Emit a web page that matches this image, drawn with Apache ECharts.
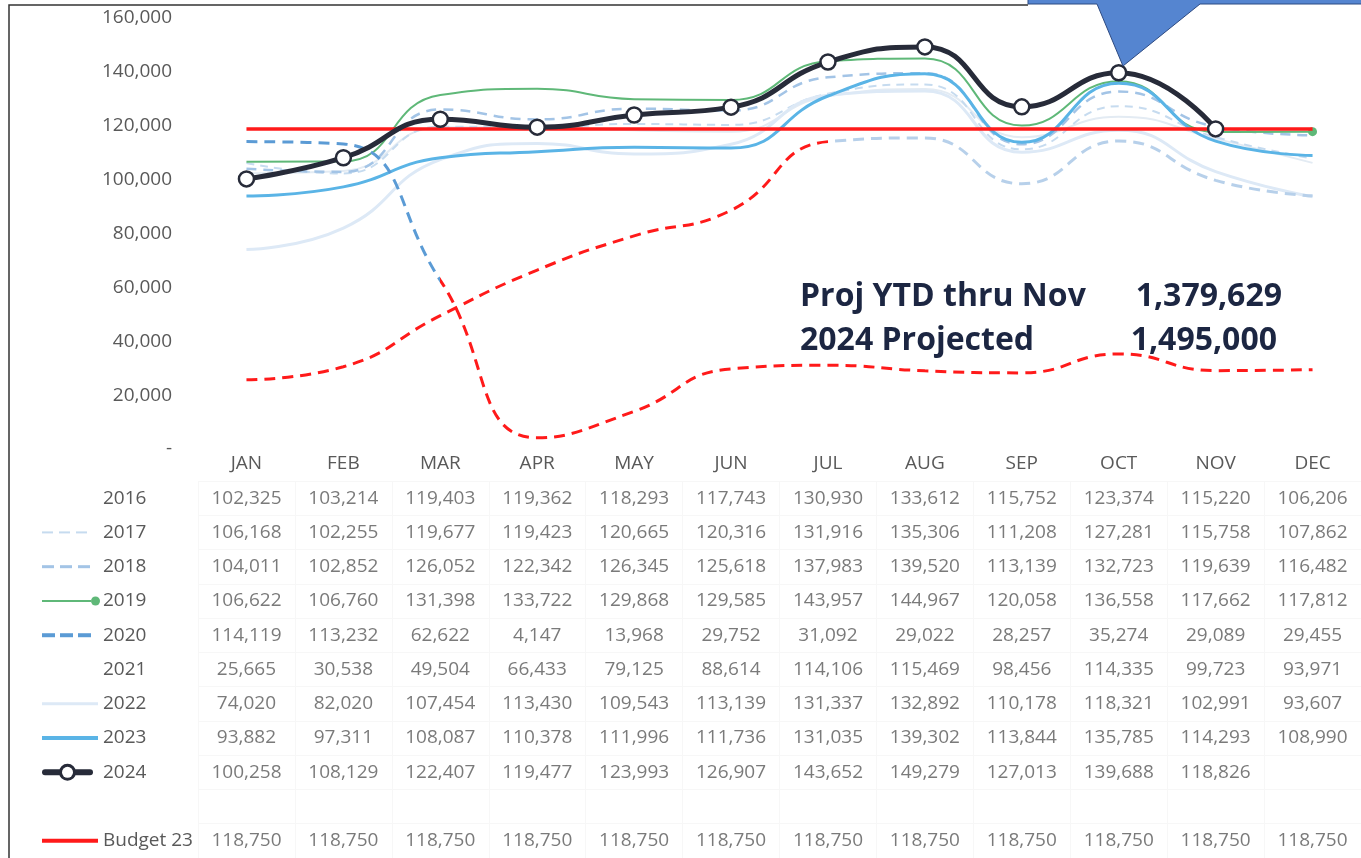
<!DOCTYPE html>
<html><head><meta charset="utf-8">
<script src="https://cdn.jsdelivr.net/npm/echarts/dist/echarts.min.js"></script>
<style>html,body{margin:0;padding:0;background:#fff}#c{width:1361px;height:858px}</style>
</head><body><div id="c"></div>
<script>
const months = ['JAN','FEB','MAR','APR','MAY','JUN','JUL','AUG','SEP','OCT','NOV','DEC'];
const yTicks = [0,20000,40000,60000,80000,100000,120000,140000,160000];
const y2016 = [102325,103214,119403,119362,118293,117743,130930,133612,115752,123374,115220,106206];
const y2017 = [106168,102255,119677,119423,120665,120316,131916,135306,111208,127281,115758,107862];
const y2018 = [104011,102852,126052,122342,126345,125618,137983,139520,113139,132723,119639,116482];
const y2019 = [106622,106760,131398,133722,129868,129585,143957,144967,120058,136558,117662,117812];
const y2020 = [114119,113232,62622,4147,13968,29752,31092,29022,28257,35274,29089,29455];
const y2021 = [25665,30538,49504,66433,79125,88614,114106,115469,98456,114335,99723,93971];
const y2022 = [74020,82020,107454,113430,109543,113139,131337,132892,110178,118321,102991,93607];
const y2023 = [93882,97311,108087,110378,111996,111736,131035,139302,113844,135785,114293,108990];
const y2024 = [100258,108129,122407,119477,123993,126907,143652,149279,127013,139688,118826,null];
const budget23 = [118750,118750,118750,118750,118750,118750,118750,118750,118750,118750,118750,118750];
const rowNames = ['2016','2017','2018','2019','2020','2021','2022','2023','2024','','Budget 23'];
const rowData = [y2016,y2017,y2018,y2019,y2020,y2021,y2022,y2023,y2024,null,budget23];
const annoLabels = ['Proj YTD thru Nov','2024 Projected'];
const annoValues = ['1,379,629','1,495,000'];

const FONT = '"Open Sans", "Noto Sans", sans-serif';
const GRAY = '#595959';
const SMOOTH = 0.5;

function line(name, data, color, width, type, z) {
  const s = {type:'line', name, data, smooth:SMOOTH, symbol:'none', z:z||2,
    lineStyle:{width, type: type||'solid'}, emphasis:{disabled:true}};
  if (color) { s.lineStyle.color = color; s.itemStyle = {color}; }
  return s;
}

const s2019 = line('2019', y2019.map((v,i)=> i===y2019.length-1 ? v : {value:v, symbol:'none'}), '#5fb878', 2, 'solid', 3);
s2019.symbol = 'circle'; s2019.symbolSize = 9; s2019.showSymbol = true;

const s2024 = {type:'line', name:'2024', data:y2024, smooth:SMOOTH, z:10,
  symbol:'circle', symbolSize:15, showSymbol:true,
  lineStyle:{color:'#272b39', width:5},
  itemStyle:{color:'#ffffff', borderColor:'#272b39', borderWidth:2.5}, emphasis:{disabled:true}};

const series = [
  line('2016', y2016, '#e3ebf3', 2, 'solid', 2),
  line('2017', y2017, '#c6dbef', 2, [8,6], 2),
  line('2018', y2018, '#a3c4e6', 2.5, [10,7], 2),
  s2019,
  line('2020', y2020, null, 3, [11,7], 4),
  line('2021', y2021, null, 3, [11,7], 4),
  line('2022', y2022, '#dde9f6', 3, 'solid', 2),
  line('2023', y2023, '#5ab4e6', 3, 'solid', 3),
  line('Budget 23', budget23, '#ff1a1a', 3.5, 'solid', 8),
  s2024
];

// table cells
const cells = [];
rowData.forEach((arr, r) => { if (!arr) return; arr.forEach((v, c) => { if (v != null) cells.push([c, r, v]); }); });
series.push({type:'scatter', xAxisIndex:1, yAxisIndex:1, data:cells, symbolSize:1,
  itemStyle:{color:'rgba(0,0,0,0)'}, silent:true, z:1,
  label:{show:true, position:'inside', color:GRAY, fontSize:19, fontFamily:FONT,
    formatter:p=>p.value[2].toLocaleString('en-US')}});

const rich = {
  t:{fontSize:19, color:GRAY, fontFamily:FONT, verticalAlign:'middle'},
  g3:{width:3, height:2}, g6:{width:6, height:2}, g13:{width:13,height:2}, g61:{width:61,height:2},
  g5:{width:5,height:2}, g7:{width:7,height:2},
  d17:{width:11, height:2, backgroundColor:'#c6dbef', verticalAlign:'middle'},
  d18:{width:12, height:3, backgroundColor:'#a3c4e6', verticalAlign:'middle'},
  d20:{width:13, height:4, backgroundColor:'#5b9bd5', verticalAlign:'middle'},
  l19:{width:49, height:2, backgroundColor:'#5fb878', verticalAlign:'middle'},
  o19:{width:9, height:9, borderRadius:5, backgroundColor:'#5fb878', verticalAlign:'middle'},
  l22:{width:56, height:3, backgroundColor:'#dde9f6', verticalAlign:'middle'},
  l23:{width:56, height:4, backgroundColor:'#5ab4e6', verticalAlign:'middle'},
  l24:{width:20, height:6, borderRadius:3, backgroundColor:'#272b39', verticalAlign:'middle'},
  c24:{width:11, height:11, borderRadius:8, borderWidth:3, borderColor:'#272b39', backgroundColor:'#ffffff', verticalAlign:'middle'},
  lB:{width:56, height:4, backgroundColor:'#ff1a1a', verticalAlign:'middle'}
};
const icons = {
  '2016':'{g61|}',
  '2017':'{d17|}{g6|}{d17|}{g6|}{d17|}{g13|}{g3|}',
  '2018':'{d18|}{g6|}{d18|}{g6|}{d18|}{g13|}',
  '2019':'{l19|}{o19|}{g3|}',
  '2020':'{d20|}{g5|}{d20|}{g5|}{d20|}{g7|}{g5|}',
  '2021':'{g61|}',
  '2022':'{l22|}{g5|}',
  '2023':'{l23|}{g5|}',
  '2024':'{l24|}{c24|}{l24|}{g7|}{g3|}',
  '':'{g61|}',
  'Budget 23':'{lB|}{g5|}'
};

const option = {
  animation:false,
  backgroundColor:'#ffffff',
  grid:[
    {left:198, width:1176, top:18, height:431},
    {left:198, width:1176, top:481, height:379.5}
  ],
  xAxis:[
    {type:'category', gridIndex:0, data:months, boundaryGap:true,
      axisLine:{show:false}, axisTick:{show:false}, splitLine:{show:false},
      axisLabel:{color:GRAY, fontSize:19, fontFamily:FONT, margin:5}},
    {type:'category', gridIndex:1, data:months, boundaryGap:true,
      axisLine:{show:false}, axisTick:{show:false}, axisLabel:{show:false},
      splitLine:{show:true, lineStyle:{color:'#f7f7f7', width:1}}}
  ],
  yAxis:[
    {type:'value', gridIndex:0, min:yTicks[0], max:yTicks[yTicks.length-1], interval:20000,
      axisLine:{show:false}, axisTick:{show:false}, splitLine:{show:false},
      axisLabel:{color:GRAY, fontSize:19, fontFamily:FONT, margin:26,
        formatter:v=> v===0 ? '-' : v.toLocaleString('en-US')}},
    {type:'category', gridIndex:1, data:rowNames, inverse:true, boundaryGap:true,
      axisLine:{show:false}, axisTick:{show:false},
      splitLine:{show:true, lineStyle:{color:'#f7f7f7', width:1}},
      axisLabel:{align:'left', margin:156, rich,
        formatter:v=> (icons[v]||'{g61|}') + (v ? '{t|'+v+'}' : '')}}
  ],
  visualMap:[
    {show:false, type:'piecewise', seriesIndex:4, dimension:0,
      pieces:[{lte:2, color:'#5b9bd5'},{gt:2, lte:20, color:'#ff1a1a'}], outOfRange:{color:'#ff1a1a'}},
    {show:false, type:'piecewise', seriesIndex:5, dimension:0,
      pieces:[{lte:6, color:'#ff1a1a'},{gt:6, lte:20, color:'#b7d0ea'}], outOfRange:{color:'#b7d0ea'}}
  ],
  series,
  graphic:[
    {type:'polyline', z:50, shape:{points:[[1028,5],[9,5],[9,860]]}, style:{stroke:'#333333', lineWidth:1.5, fill:null}},
    {type:'polygon', z:60, shape:{points:[[1028,-3],[1365,-3],[1365,4],[1200,4],[1123,66],[1097,4],[1028,4]]},
      style:{fill:'#5585d0', stroke:'#2d4a82', lineWidth:1}},
    {type:'text', z:60, x:800, y:297, style:{text:annoLabels[0], font:'bold 32px '+FONT, fill:'#1c2642', verticalAlign:'middle'}},
    {type:'text', z:60, x:800, y:341, style:{text:annoLabels[1], font:'bold 32px '+FONT, fill:'#1c2642', verticalAlign:'middle'}},
    {type:'text', z:60, x:1282, y:297, style:{text:annoValues[0], font:'bold 32px '+FONT, fill:'#1c2642', align:'right', verticalAlign:'middle'}},
    {type:'text', z:60, x:1277, y:341, style:{text:annoValues[1], font:'bold 32px '+FONT, fill:'#1c2642', align:'right', verticalAlign:'middle'}}
  ]
};
const chart = echarts.init(document.getElementById('c'), null, {renderer:'canvas'});
chart.setOption(option);
</script></body></html>
